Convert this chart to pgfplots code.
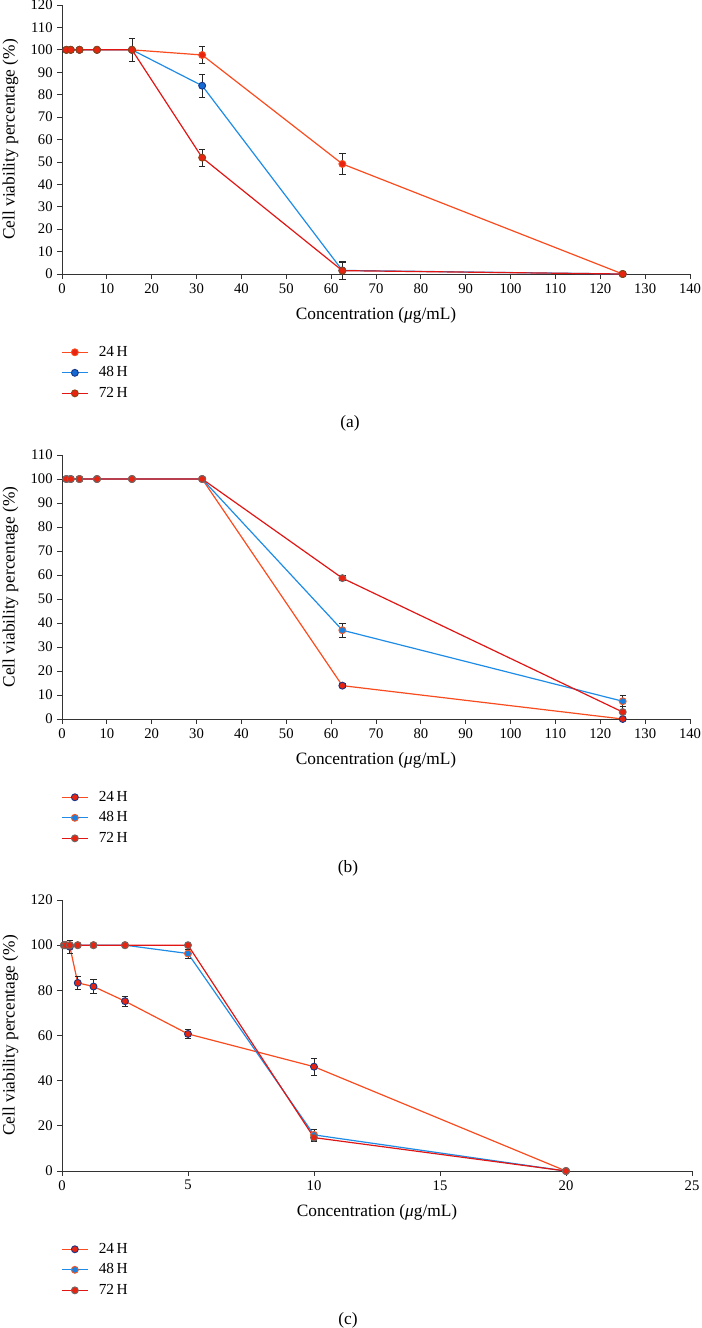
\documentclass[border=0pt]{standalone}
\usepackage{fontspec}
\setmainfont{Liberation Serif}
\usepackage{pgfplots}
\pgfplotsset{compat=1.18}

\definecolor{lA}{RGB}{250,75,30}
\definecolor{lB}{RGB}{30,140,230}
\definecolor{lC}{RGB}{225,22,20}
\definecolor{fRed}{RGB}{232,35,15}
\definecolor{fBlue}{RGB}{20,105,210}
\definecolor{fBlueB}{RGB}{25,130,225}
\definecolor{eOrange}{RGB}{245,85,30}
\definecolor{eNavy}{RGB}{25,55,135}
\definecolor{eBrown}{RGB}{140,70,20}
\definecolor{eGray}{RGB}{105,105,105}

\pgfplotsset{
  panel/.style={
    scale only axis,
    axis x line*=bottom, axis y line*=left,
    axis line style={-, draw=black!80, line width=0.6pt},
    tick align=outside, major tick length=3.5pt,
    tick style={black!80, line width=0.6pt},
    xmin=0, ymin=0,
    clip=false,
    tick label style={font=\fontsize{11}{13}\selectfont},
    /pgf/number format/assume math mode=true,
    xlabel={Concentration (\textit{μ}g/mL)},
    ylabel={Cell viability percentage (\%)},
    label style={font=\fontsize{13}{15}\selectfont},
    xlabel style={at={(axis description cs:0.5,0)}, anchor=center, yshift=-31pt},
    ylabel style={at={(axis description cs:0,0.5)}, anchor=center, yshift=38.6pt},
    legend style={at={(axis description cs:0,0)}, anchor=north west, yshift=-52.5pt,
      xshift=-1pt, draw=none, fill=none, inner sep=0pt,
      font=\fontsize{11.5}{13}\selectfont, row sep=3.4pt,
      nodes={inner sep=1pt, text height=8pt, text depth=2pt}},
    legend cell align=left,
    legend image code/.code={%
      \draw[##1, mark=none, line width=0.9pt] (0pt,0pt) -- (20pt,0pt);
      \draw[##1] plot coordinates {(10pt,0pt)};
      \path (26.5pt,0pt);},
  },
  eb/.style={line width=0.9pt, mark=*, mark size=2.6pt,
      error bars/y dir=both, error bars/y explicit,
      error bars/error bar style={black!85, line width=0.6pt},
      error bars/error mark options={rotate=90, black!85, mark size=2.4pt, line width=0.6pt}},
  sA/.style={eb, lA, mark options={fill=fRed, draw=lA, line width=0.7pt}},
  sB/.style={eb, lB, mark options={fill=fBlue, draw=eNavy, line width=0.7pt}},
  sC/.style={eb, lC, mark options={fill=fRed, draw=eBrown, line width=0.7pt}},
  tA/.style={eb, lA, mark options={fill=fRed, draw=eNavy, line width=0.7pt}},
  tB/.style={eb, lB, mark options={fill=fBlueB, draw=eOrange, line width=0.7pt}},
  tC/.style={eb, lC, mark options={fill=fRed, draw=eGray, line width=0.7pt}},
}

\begin{document}
\begin{tikzpicture}
\useasboundingbox (0,0) rectangle (526.5pt,-996pt);

% ---------------- (a)
\begin{axis}[panel, at={(46.5pt,-205.5pt)}, anchor=south west,
  width=471pt, height=201.75pt,
  xmax=140, ymax=120, xtick={0,10,...,140}, ytick={0,10,...,120}]
\addplot[sA] table[x=x,y=y,y error=e,row sep=\\] {
x y e\\ 0.98 100 0\\ 1.95 100 0\\ 3.9 100 0\\ 7.8 100 0\\ 15.6 100 0\\ 31.25 97.7 3.7\\ 62.5 49.1 4.7\\ 125 0 0\\};
\addplot[sB] table[x=x,y=y,y error=e,row sep=\\] {
x y e\\ 0.98 100 0\\ 1.95 100 0\\ 3.9 100 0\\ 7.8 100 0\\ 15.6 100 0\\ 31.25 84.0 5.2\\ 62.5 1.6 3.8\\ 125 0 0\\};
\addplot[sC] table[x=x,y=y,y error=e,row sep=\\] {
x y e\\ 0.98 100 0\\ 1.95 100 0\\ 3.9 100 0\\ 7.8 100 0\\ 15.6 100 5.2\\ 31.25 51.9 3.8\\ 62.5 1.5 4.0\\ 125 0 0\\};
\legend{24\,H, 48\,H, 72\,H}
\end{axis}
\node[font=\fontsize{13}{15}\selectfont] at (262.5pt,-317.25pt) {(a)};

% ---------------- (b)
\begin{axis}[panel, at={(46.5pt,-539.25pt)}, anchor=south west,
  width=471pt, height=198pt,
  xmax=140, ymax=110, xtick={0,10,...,140}, ytick={0,10,...,110}]
\addplot[tA] table[x=x,y=y,y error=e,row sep=\\] {
x y e\\ 0.98 100 0\\ 1.95 100 0\\ 3.9 100 0\\ 7.8 100 0\\ 15.6 100 0\\ 31.25 100 0\\ 62.5 13.9 0.8\\ 125 0 0\\};
\addplot[tB] table[x=x,y=y,y error=e,row sep=\\] {
x y e\\ 0.98 100 0\\ 1.95 100 0\\ 3.9 100 0\\ 7.8 100 0\\ 15.6 100 0\\ 31.25 100 0\\ 62.5 37.0 3.0\\ 125 7.4 2.3\\};
\addplot[tC] table[x=x,y=y,y error=e,row sep=\\] {
x y e\\ 0.98 100 0\\ 1.95 100 0\\ 3.9 100 0\\ 7.8 100 0\\ 15.6 100 0\\ 31.25 100 0\\ 62.5 58.7 1.0\\ 125 2.9 2.3\\};
\legend{24\,H, 48\,H, 72\,H}
\end{axis}
\node[font=\fontsize{13}{15}\selectfont] at (261pt,-651pt) {(b)};

% ---------------- (c)
\begin{axis}[panel, at={(46.5pt,-878.25pt)}, anchor=south west,
  width=472.5pt, height=203.25pt,
  xmax=25, ymax=120, xtick={0,5,...,25}, ytick={0,20,...,120}]
\addplot[tA] table[x=x,y=y,y error=e,row sep=\\] {
x y e\\ 0.078 100 0\\ 0.156 100 0\\ 0.3125 99.3 3\\ 0.625 83.3 3\\ 1.25 81.7 3\\ 2.5 75.2 2.2\\ 5 60.7 2\\ 10 46.2 3.7\\ 20 0 0\\};
\addplot[tB] table[x=x,y=y,y error=e,row sep=\\] {
x y e\\ 0.078 100 0\\ 0.156 100 0\\ 0.3125 100 0\\ 0.625 100 0\\ 1.25 100 0\\ 2.5 100 0\\ 5 96.3 2\\ 10 16.0 2.6\\ 20 0 0\\};
\addplot[tC] table[x=x,y=y,y error=e,row sep=\\] {
x y e\\ 0.078 100 0\\ 0.156 100 0\\ 0.3125 100 0\\ 0.625 100 0\\ 1.25 100 0\\ 2.5 100 0\\ 5 100 0\\ 10 14.8 1.5\\ 20 0 0\\};
\legend{24\,H, 48\,H, 72\,H}
\end{axis}
\node[font=\fontsize{13}{15}\selectfont] at (261pt,-990pt) {(c)};
\end{tikzpicture}
\end{document}
